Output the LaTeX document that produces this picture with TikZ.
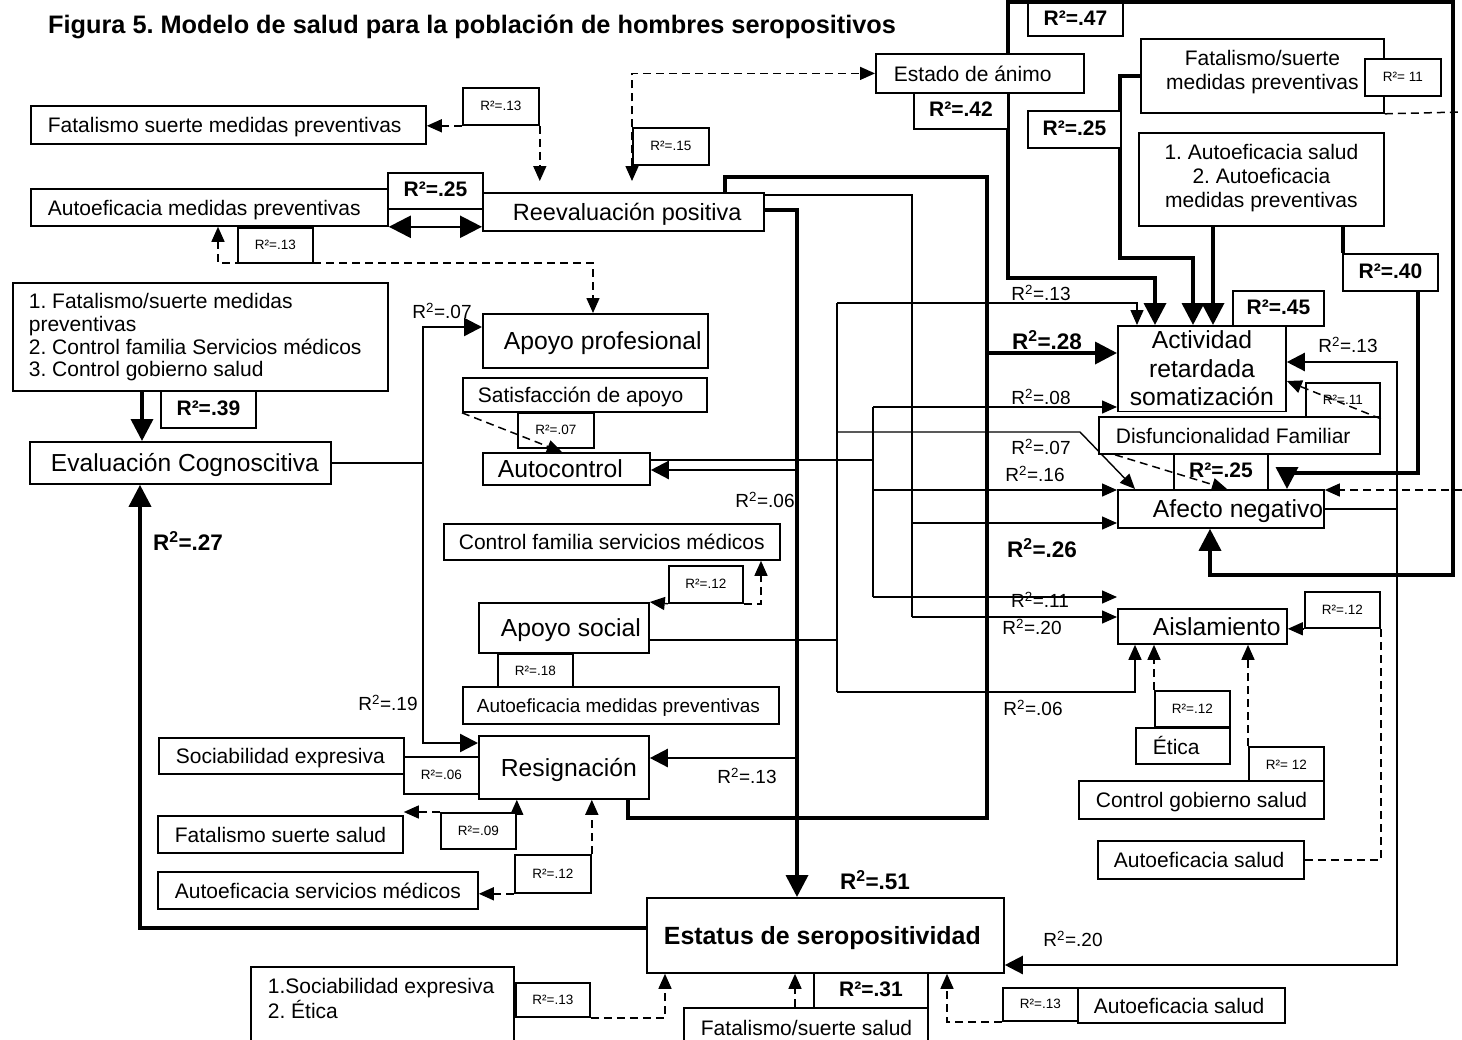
\documentclass[tikz,border=0pt]{standalone}
\usepackage{fontspec}
\setmainfont{Liberation Sans}
\usetikzlibrary{arrows.meta}
\frenchspacing

% font sizes (1 unit = 1pt)
\newcommand\txtN{\fontsize{21}{24}\selectfont}
\newcommand\txtNL{\fontsize{21}{22.7}\selectfont}
\newcommand\txtB{\fontsize{24.7}{28.5}\selectfont}
\newcommand\txtS{\fontsize{13.5}{16}\selectfont}
\newcommand\txtRB{\bfseries\fontsize{21}{24}\selectfont}
\newcommand\txtL{\fontsize{19}{22}\selectfont}
\newcommand\txtLB{\bfseries\fontsize{22.5}{26}\selectfont}
\newcommand\txtEB{\bfseries\fontsize{24.9}{28}\selectfont}
\newcommand\txtT{\bfseries\fontsize{25.3}{29}\selectfont}

% helpers for the box contents
\newcommand\bxtabl[1]{\begin{tabular}{@{}l@{}}#1\end{tabular}}
\newcommand\bxtabc[1]{\begin{tabular}{@{}c@{}}#1\end{tabular}}
\newcommand\bxpadl{}
\newcommand\bxpadc{\hfil}

\pgfdeclarelayer{lines}
\pgfsetlayers{lines,main}

\tikzset{
  txo/.store in=\bxtxo, tyo/.store in=\bxtyo, tal/.store in=\bxtal,
  txo=0, tyo=-3, tal=l,
  box/.style={draw, line width=1.8pt, fill=white, inner sep=0pt, font=\txtN},
  sbox/.style={box, font=\txtS, tal=c, tyo=-1},
  rbox/.style={box, font=\txtRB, tal=c, tyo=-1},
  lbl/.style={inner sep=0pt, font=\txtL},
  lblb/.style={inner sep=0pt, font=\txtLB},
  thn/.style={line width=1.4pt},
  med/.style={line width=2.4pt},
  thk/.style={line width=3.6pt},
  dsh/.style={line width=1.5pt, dash pattern=on 8pt off 5pt},
  aL/.style={-{Triangle[length=22pt,width=22pt]}},
  aLL/.style={{Triangle[length=22pt,width=22pt]}-{Triangle[length=22pt,width=22pt]}},
  aM/.style={-{Triangle[length=18pt,width=18pt]}},
  aMM/.style={{Triangle[length=18pt,width=18pt]}-{Triangle[length=18pt,width=18pt]}},
  aS/.style={-{Triangle[length=15pt,width=13pt]}},
  aSS/.style={{Triangle[length=15pt,width=13pt]}-{Triangle[length=15pt,width=13pt]}},
}

% \bx[options]{name}{x1}{y1}{x2}{y2}{text}: a framed box given by its corners
\newcommand\bx[7][]{%
  \pgfmathsetmacro\bxw{#5-#3}\pgfmathsetmacro\bxh{#6-#4}%
  \node[box,#1,minimum width=\bxw pt,minimum height=\bxh pt,anchor=north west]
    (#2) at (#3,#4)
    {\raisebox{\bxtyo pt}[\height][\depth]{\hbox to \bxw pt{\csname bxpad\bxtal\endcsname\hspace*{\bxtxo pt}\csname bxtab\bxtal\endcsname{#7}\hfil}}};}

\begin{document}
\begin{tikzpicture}[x=1pt,y=-1pt]
\useasboundingbox (0,0) rectangle (1462,1039);
\clip (0,0) rectangle (1462,1039);

\node[anchor=base west, inner sep=0pt, font=\txtT] (title) at (48,33)
  {Figura 5. Modelo de salud para la población de hombres seropositivos};

% ---------------- boxes ----------------
\bx[txo=17]{fsmp}{30}{105}{425}{143}{Fatalismo suerte medidas preventivas}
\bx[sbox]{r13a}{462}{87}{538}{124}{R²=.13}
\bx[txo=17]{amp}{30}{188}{387}{225}{Autoeficacia medidas preventivas}
\bx[rbox]{r25a}{387}{172}{482}{208}{R²=.25}
\bx[font=\fontsize{23.5}{27}\selectfont,txo=30]{reeval}{482}{192}{763}{230}{Reevaluación positiva}
\bx[sbox]{r15}{632}{127}{708}{164}{R²=.15}
\bx[txo=18]{estado}{875}{53}{1083}{92}{Estado de ánimo}
\bx[rbox]{r42}{913}{92}{1007}{128}{R²=.42}
\bx[rbox]{r47}{1027}{2}{1122}{35}{R²=.47}
\bx[tal=c,tyo=3]{fsr}{1140}{38}{1383}{112}{Fatalismo/suerte\\medidas preventivas}
\bx[sbox]{r11a}{1364}{58}{1440}{95}{R²= 11}
\bx[rbox]{r25b}{1027}{110}{1120}{147}{R²=.25}
\bx[tal=c,tyo=1]{aes}{1138}{132}{1383}{225}{1. Autoeficacia salud\\2. Autoeficacia\\medidas preventivas}
\bx[rbox]{r40}{1342}{253}{1437}{290}{R²=.40}
\bx[rbox]{r45}{1232}{290}{1323}{325}{R²=.45}
\bx[font=\txtB,tal=c,tyo=-3]{act}{1117}{325}{1285}{410}{Actividad\\retardada\\somatización}
\bx[sbox]{r11b}{1305}{382}{1379}{417}{R²=.11}
\bx[txo=17]{disf}{1098}{416}{1379}{453}{Disfuncionalidad Familiar}
\bx[rbox]{r25c}{1173}{453}{1267}{489}{R²=.25}
\bx[font=\txtB,txo=35]{afecto}{1117}{489}{1323}{527}{Afecto negativo}
\bx[font=\txtB,txo=35]{aisl}{1117}{608}{1286}{643}{Aislamiento}
\bx[sbox]{r12a}{1304}{591}{1379}{627}{R²=.12}
\bx[sbox]{r12b}{1154}{690}{1229}{726}{R²=.12}
\bx[txo=17]{etica}{1135}{727}{1229}{763}{Ética}
\bx[sbox]{r12c}{1248}{746}{1323}{782}{R²= 12}
\bx[txo=17]{cgs}{1078}{780}{1323}{818}{Control gobierno salud}
\bx[txo=16]{aesal}{1097}{840}{1303}{878}{Autoeficacia salud}
\bx[font=\txtEB,txo=17]{estatus}{646}{897}{1003}{972}{Estatus de seropositividad}
\bx[sbox]{r13e}{1002}{987}{1077}{1020}{R²=.13}
\bx[txo=16]{aesal2}{1077}{987}{1284}{1022}{Autoeficacia salud}
\bx[txo=17]{fss}{683}{1007}{927}{1046}{Fatalismo/suerte salud}
\bx[rbox]{r31}{813}{972}{927}{1007}{R²=.31}
\bx[txo=17,tyo=6]{sexp2}{250}{966}{513}{1046}{1.Sociabilidad expresiva\\2. Ética}
\bx[sbox]{r13f}{515}{982}{589}{1016}{R²=.13}
\bx[font=\txtNL,txo=16,tyo=-1.5]{fbox}{12}{282}{387}{390}{1. Fatalismo/suerte medidas\\preventivas\\2. Control familia Servicios médicos\\3. Control gobierno salud}
\bx[rbox]{r39}{160}{390}{255}{427}{R²=.39}
\bx[font=\fontsize{24.6}{28}\selectfont,txo=21]{eval}{29}{441}{330}{483}{Evaluación Cognoscitiva}
\bx[sbox]{r13b}{237}{227}{312}{262}{R²=.13}
\bx[font=\txtB,txo=21]{apro}{482}{313}{707}{367}{Apoyo profesional}
\bx[txo=15]{sat}{462}{377}{706}{411}{Satisfacción de apoyo}
\bx[sbox]{r07}{517}{412}{593}{447}{R²=.07}
\bx[font=\txtB,txo=15]{autoc}{482}{452}{649}{484}{Autocontrol}
\bx[txo=15]{cfsm}{443}{523}{779}{559}{Control familia servicios médicos}
\bx[sbox]{r12e}{668}{565}{742}{602}{R²=.12}
\bx[font=\txtB,txo=22]{asoc}{478}{602}{648}{652}{Apoyo social}
\bx[sbox]{r18}{497}{653}{572}{688}{R²=.18}
\bx[font=\fontsize{19}{22}\selectfont,txo=14]{amp2}{462}{686}{778}{723}{Autoeficacia medidas preventivas}
\bx[font=\txtB,txo=22]{resig}{478}{735}{648}{798}{Resignación}
\bx[txo=17]{sexp}{158}{737}{403}{773}{Sociabilidad expresiva}
\bx[sbox]{r06}{403}{756}{478}{793}{R²=.06}
\bx[txo=17]{fssal}{157}{815}{402}{852}{Fatalismo suerte salud}
\bx[sbox]{r09}{440}{812}{515}{848}{R²=.09}
\bx[sbox]{r12d}{514}{854}{590}{892}{R²=.12}
\bx[txo=17]{aesm}{157}{871}{477}{908}{Autoeficacia servicios médicos}

% ---------------- free labels ----------------
\node[lbl]  (l07a) at (442,311) {R\textsuperscript{2}=.07};
\node[lbl]  (l06a) at (765,500) {R\textsuperscript{2}=.06};
\node[lblb] (l27)  at (188,541) {R\textsuperscript{2}=.27};
\node[lbl]  (l19)  at (388,703) {R\textsuperscript{2}=.19};
\node[lbl]  (l13a) at (747,776) {R\textsuperscript{2}=.13};
\node[lblb] (l51)  at (875,880) {R\textsuperscript{2}=.51};
\node[lbl]  (l20a) at (1073,939) {R\textsuperscript{2}=.20};
\node[lbl]  (l13b) at (1041,293) {R\textsuperscript{2}=.13};
\node[lblb] (l28)  at (1047,340) {R\textsuperscript{2}=.28};
\node[lbl]  (l08)  at (1041,397) {R\textsuperscript{2}=.08};
\node[lbl]  (l07b) at (1041,447) {R\textsuperscript{2}=.07};
\node[lbl]  (l16)  at (1035,474) {R\textsuperscript{2}=.16};
\node[lblb] (l26)  at (1042,548) {R\textsuperscript{2}=.26};
\node[lbl]  (l11)  at (1040,600) {R\textsuperscript{2}=.11};
\node[lbl]  (l20b) at (1032,627) {R\textsuperscript{2}=.20};
\node[lbl]  (l06b) at (1033,708) {R\textsuperscript{2}=.06};
\node[lbl]  (l13c) at (1348,345) {R\textsuperscript{2}=.13};

% ---------------- solid paths (behind the boxes) ----------------
\begin{pgfonlayer}{lines}
% bus from Evaluación Cognoscitiva
\draw[med] (eval.east) -- (423,0 |- eval.east) coordinate (busG);
\draw[med,aM] (busG) |- (apro.west |- 0,327);
\draw[med,aM] (busG) |- (resig.west |- 0,743);
% list -> Evaluación, Estatus -> Evaluación
\draw[thk,aL] (fbox.south -| 142,0) -- (eval.north -| 142,0);
\draw[thk,aL] (estatus.west |- 0,928) -| (eval.south -| 140,0);
% Reevaluación -> Estatus with branches
\draw[thk,aL] (reeval.east |- 0,210) -| (estatus.north -| 797,0);
\draw[med,aM] (797,470) -- (autoc.east |- 0,470);
\draw[med,aM] (797,758) -- (resig.east |- 0,758);
\draw[med,aLL] (amp.south east) -- (reeval.west |- amp.south east);
% Apoyo social bus
\draw[thn] (asoc.east |- 0,640) -- (837,640) coordinate (busA);
\draw[thn] (837,303) -- (837,692);
\draw[thn,aS] (837,303) -| (act.north -| 1137,0);
\draw[thn,aS] (837,432) -- (1080,432) -- (afecto.north -| 1135,0);
\draw[thn,aS] (837,692) -| (aisl.south -| 1135,0);
% Autocontrol bus
\draw[thn] (autoc.east |- 0,460) -- (873,460) coordinate (busB);
\draw[thn] (873,407) -- (873,597);
\draw[thn,aS] (873,407) -- (act.west |- 0,407);
\draw[thn,aS] (873,490) -- (afecto.west |- 0,490);
\draw[thn,aS] (873,597) -- (aisl.west |- 0,597);
% Reevaluación bus
\draw[thn] (reeval.north east |- 0,195) -- (912,195) coordinate (busC) -- (912,617);
\draw[thn,aS] (912,523) -- (afecto.west |- 0,523);
\draw[thn,aS] (912,617) -- (aisl.west |- 0,617);
% Resignación loop
\draw[thk] (resig.south -| 628,0) |- (987,818) |- (725,177) -- (reeval.north -| 725,0);
\draw[thk,aL] (987,353) -- (act.west |- 0,353);
% Actividad <-> Afecto negativo (outer loop)
\draw[thk,aLL] (act.north -| 1155,0) |- (1008,278) |- (1453,2) |- (1210,575) -- (afecto.south -| 1210,0);
% right-hand inputs to Actividad and Afecto
\draw[thk,aL] (fsr.west) -| (1120,258) -| (act.north -| 1193,0);
\draw[thk,aL] (aes.south -| 1213,0) -- (act.north -| 1213,0);
\draw[thk] (aes.south -| 1343,0) -- (r40.north -| 1343,0);
\draw[thk,aL] (r40.south -| 1418,0) |- (1287,473) -- (afecto.north -| 1287,0);
\draw[med,aMM] (act.east |- 0,362) -| (1397,965) -- (estatus.east |- 0,965);
\draw[med] (afecto.east |- 0,509) -- (1397,509);
% short solid arrows
\draw[thn,aS] (r12a.south west) -- (aisl.east |- r12a.south west);
\draw[thn,aS] (r12e.south west) -- (asoc.north east);
\draw[thn,aS] (r09.north east) -- (resig.south -| r09.north east);
\end{pgfonlayer}

% ---------------- dashed paths ----------------
\coordinate (edgeA) at (1462,112);
\coordinate (edgeB) at (1462,490);
\draw[dsh,aS] (r13a.south west) -- (fsmp.east |- r13a.south west);
\draw[dsh,aS] (r13a.south east) -- ([yshift=11pt]reeval.north -| r13a.south east);
\draw[dsh,aSS] ([yshift=11pt]reeval.north -| r15.north west) -- (r15.north west |- estado.west) -- (estado.west);
\draw[dsh,aSS] (amp.south -| 218,0) -- (218,263) -| (apro.north -| 593,0);
\draw[dsh,aS] (sat.south west) -- (autoc.north -| 562,0);
\draw[dsh,aS] (r12e.south east) -| (cfsm.south -| 761,0);
\draw[dsh,aS] (r09.north west) -- (fssal.east |- r09.north west);
\draw[dsh,aS] (r12d.north east) -- (resig.south -| r12d.north east);
\draw[dsh,aS] (r12d.south west) -- (aesm.east |- r12d.south west);
\draw[dsh,aS] (r13f.south east) -| (estatus.south -| 665,0);
\draw[dsh,aS] (fss.north -| 795,0) -- (estatus.south -| 795,0);
\draw[dsh,aS] (r13e.south west) -| (estatus.south -| 947,0);
\draw[dsh,aS] (r11b.south east) -- (act.east |- 0,381);
\draw[dsh,aS] (disf.south west -| 1115,0) -- (afecto.north -| 1227,0);
\draw[dsh] (fsr.south east) -- (edgeA);
\draw[dsh,aS] (edgeB) -- (afecto.east |- edgeB);
\draw[dsh] (aesal.east) -| (r12a.south east);
\draw[dsh,aS] (r12b.north west) -- (aisl.south -| r12b.north west);
\draw[dsh,aS] (r12c.north west) -- (aisl.south -| r12c.north west);
\end{tikzpicture}
\end{document}
